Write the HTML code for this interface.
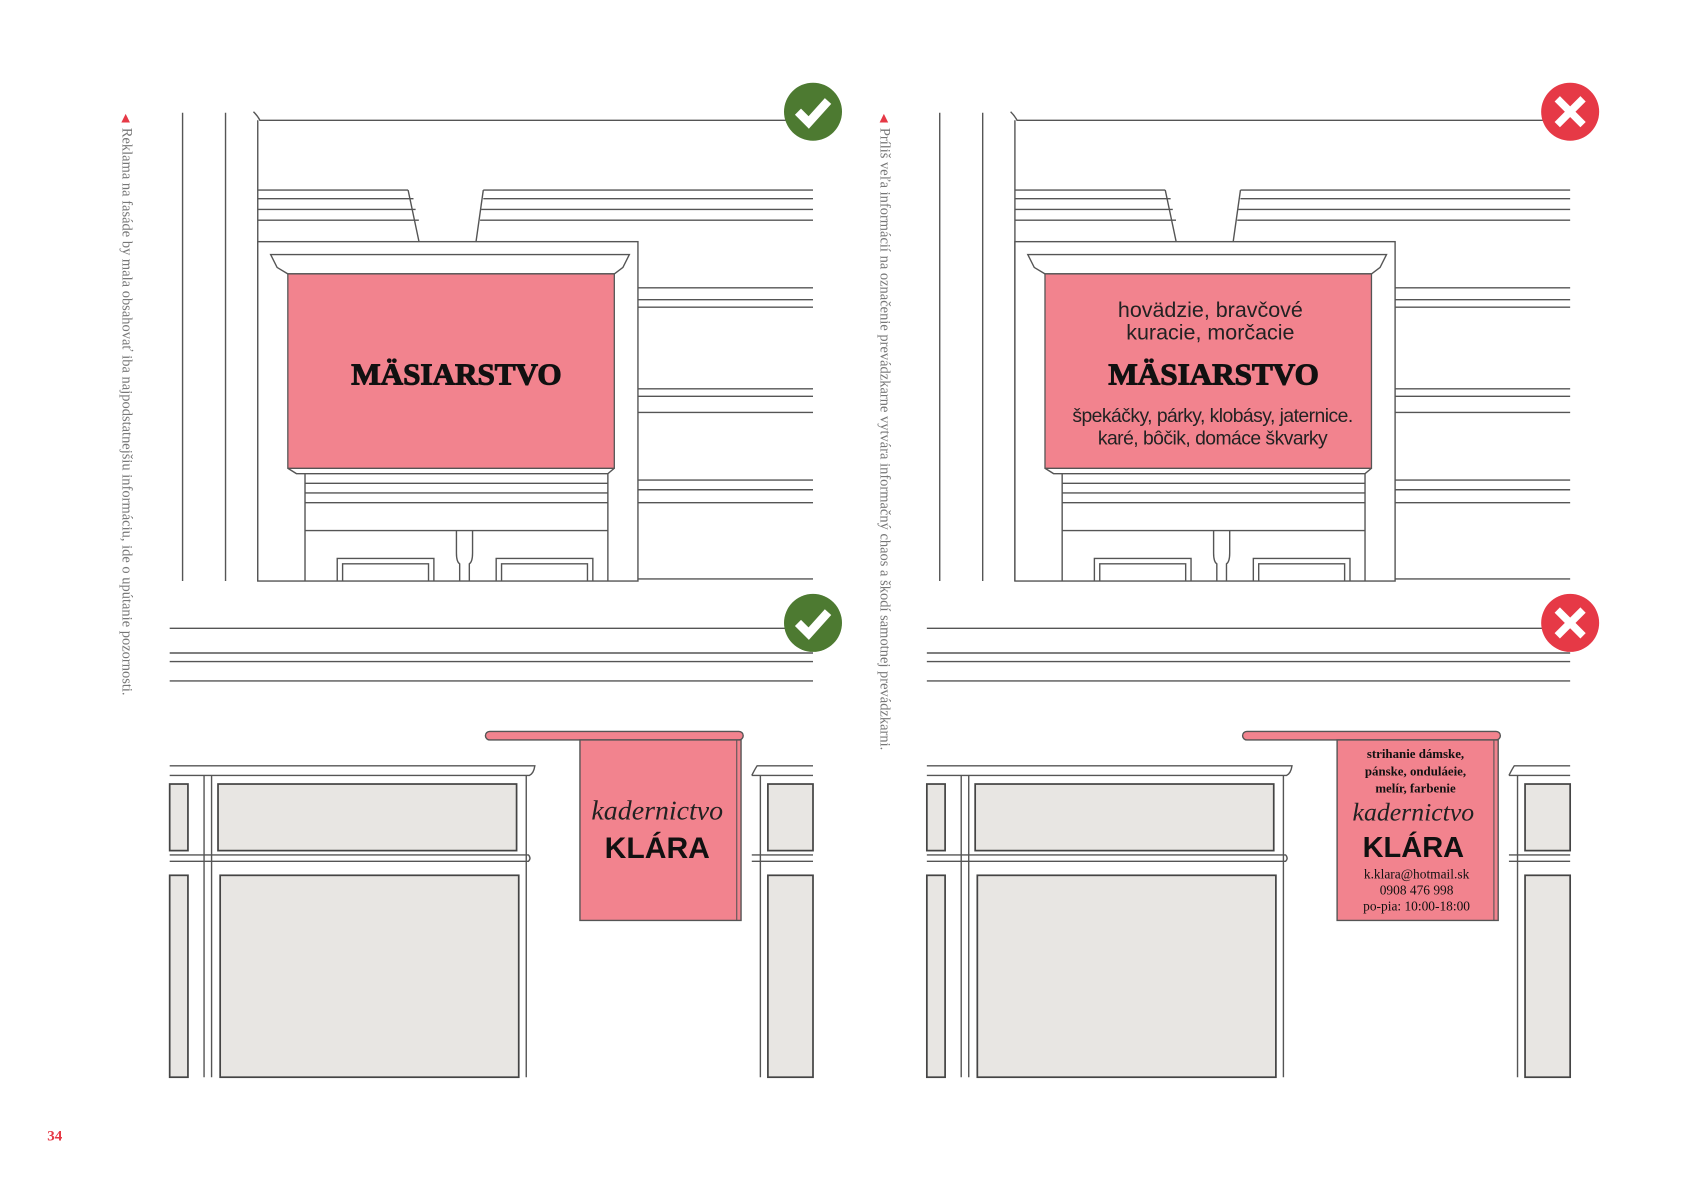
<!DOCTYPE html>
<html><head><meta charset="utf-8"><style>
html,body{margin:0;padding:0;background:#fff;}
svg{display:block}
</style></head><body>
<svg width="1684" height="1190" viewBox="0 0 1568 1108" xmlns="http://www.w3.org/2000/svg" font-family="Liberation Sans, DejaVu Sans, sans-serif">
<defs>
<g id="top" fill="none" stroke="#555" stroke-width="1.3">
  <line x1="170" y1="105" x2="170" y2="541"/>
  <line x1="210" y1="105" x2="210" y2="541"/>
  <line x1="240" y1="112" x2="240" y2="541"/>
  <path d="M236 104 Q240 108 242 112 L757 112"/>
  <line x1="240" y1="177" x2="380" y2="177"/><line x1="450" y1="177" x2="757" y2="177"/>
  <line x1="240" y1="185" x2="385" y2="185"/><line x1="450" y1="185" x2="757" y2="185"/>
  <line x1="240" y1="195" x2="387" y2="195"/><line x1="448" y1="195" x2="757" y2="195"/>
  <line x1="240" y1="205" x2="390" y2="205"/><line x1="447" y1="205" x2="757" y2="205"/>
  <path d="M380 177 L395 248 L440 248 L450 177"/>
  <rect x="240" y="225" width="354" height="316" fill="#fff"/>
  <path d="M252 237 L586 237 L580 249 L572 255 L268 255 L258 249 Z" fill="#fff"/>
  <line x1="268" y1="436" x2="572" y2="436"/>
  <path d="M268 436 L276 441 L566 441 L572 436"/>
  <line x1="284" y1="441" x2="284" y2="541"/><line x1="566" y1="441" x2="566" y2="541"/>
  <line x1="284" y1="450" x2="566" y2="450"/><line x1="284" y1="459" x2="566" y2="459"/>
  <line x1="284" y1="468" x2="566" y2="468"/><line x1="284" y1="494" x2="566" y2="494"/>
  <path d="M425 494 L425 515 Q425 523 428 525 L428 541 M440 494 L440 515 Q440 523 437 525 L437 541"/>
  <path d="M314 541 L314 520 L404 520 L404 541 M319 541 L319 525 L399 525 L399 541"/>
  <path d="M462 541 L462 520 L552 520 L552 541 M467 541 L467 525 L547 525 L547 541"/>
  <line x1="594" y1="268" x2="757" y2="268"/><line x1="594" y1="279" x2="757" y2="279"/><line x1="594" y1="286" x2="757" y2="286"/>
  <line x1="594" y1="362" x2="757" y2="362"/><line x1="594" y1="369" x2="757" y2="369"/><line x1="594" y1="384" x2="757" y2="384"/>
  <line x1="594" y1="447" x2="757" y2="447"/><line x1="594" y1="456" x2="757" y2="456"/><line x1="594" y1="468" x2="757" y2="468"/>
  <line x1="594" y1="539" x2="757" y2="539"/>
</g>
<g id="bot" stroke="#555" stroke-width="1.3">
  <g fill="none">
  <line x1="158" y1="585" x2="757" y2="585"/>
  <line x1="158" y1="608" x2="757" y2="608"/><line x1="158" y1="616" x2="757" y2="616"/>
  <line x1="158" y1="634" x2="757" y2="634"/>
  <path d="M158 713 L498 713 Q497 720 493 722 L158 722"/>
  <path d="M700 722 Q703 716 705 713 L757 713 M700 722 L757 722"/>
  <line x1="190" y1="722" x2="190" y2="1003"/><line x1="197" y1="722" x2="197" y2="1003"/>
  <line x1="490" y1="722" x2="490" y2="1003"/>
  <path d="M158 796 L492 796 Q495 799 492 802 L158 802"/>
  <path d="M700 802 L757 802 M700 796 L757 796"/>
  <line x1="708" y1="722" x2="708" y2="1003"/>
  </g>
  <g fill="#e8e6e3" stroke="#444" stroke-width="1.6">
  <rect x="203" y="730" width="278" height="62"/>
  <rect x="205" y="815" width="278" height="188"/>
  <rect x="158" y="730" width="17" height="62"/>
  <rect x="158" y="815" width="17" height="188"/>
  <rect x="715" y="730" width="42" height="62"/>
  <rect x="715" y="815" width="42" height="188"/>
  </g>
</g>
<g id="check"><circle cx="757" cy="104" r="27" fill="#4d7a31"/><path d="M743 104 L753 114 L771 94" fill="none" stroke="#fff" stroke-width="8"/></g>
<g id="cross"><circle cx="1462" cy="104" r="27" fill="#e63946"/><path d="M1450 92 L1474 116 M1474 92 L1450 116" stroke="#fff" stroke-width="7"/></g>
</defs>

<use href="#top"/>
<use href="#top" transform="translate(705,0)"/>
<use href="#bot"/>
<use href="#bot" transform="translate(705,0)"/>
<use href="#check"/>
<use href="#check" transform="translate(0,476)"/>
<use href="#cross"/>
<use href="#cross" transform="translate(0,476)"/>

<rect x="268" y="255" width="304" height="181" fill="#f2838e" stroke="#555" stroke-width="1.2"/>
<text x="425" y="358" text-anchor="middle" font-family="Liberation Serif, serif" font-weight="bold" font-size="29" fill="#111" stroke="#111" stroke-width="1">MÄSIARSTVO</text>
<rect x="973" y="255" width="304" height="181" fill="#f2838e" stroke="#555" stroke-width="1.2"/>
<g fill="#222" text-anchor="middle" font-size="20">
<text x="1127" y="295">hovädzie, bravčové</text>
<text x="1127" y="316">kuracie, morčacie</text>
<text x="1130" y="358" font-family="Liberation Serif, serif" font-weight="bold" font-size="29" fill="#111" stroke="#111" stroke-width="1">MÄSIARSTVO</text>
<text x="1129" y="393" font-size="18" letter-spacing="-0.5">špekáčky, párky, klobásy, jaternice.</text>
<text x="1129" y="414" font-size="18" letter-spacing="-0.5">karé, bôčik, domáce škvarky</text>
</g>

<rect x="452" y="681" width="240" height="8" rx="4" fill="#f2838e" stroke="#555" stroke-width="1.3"/>
<path d="M540 689 L690 689 L690 857 L540 857 Z" fill="#f2838e" stroke="#555" stroke-width="1.3"/>
<line x1="686" y1="689" x2="686" y2="857" stroke="#555" stroke-width="1"/>
<text x="612" y="763" text-anchor="middle" font-family="Liberation Serif, serif" font-style="italic" font-size="26" fill="#222">kadernictvo</text>
<text x="612" y="799" text-anchor="middle" font-weight="bold" font-size="28" fill="#111">KLÁRA</text>

<rect x="1157" y="681" width="240" height="8" rx="4" fill="#f2838e" stroke="#555" stroke-width="1.3"/>
<path d="M1245 689 L1395 689 L1395 857 L1245 857 Z" fill="#f2838e" stroke="#555" stroke-width="1.3"/>
<line x1="1391" y1="689" x2="1391" y2="857" stroke="#555" stroke-width="1"/>
<g text-anchor="middle" fill="#111" font-family="Liberation Serif, serif" font-weight="bold" font-size="12">
<text x="1318" y="706">strihanie dámske,</text>
<text x="1318" y="722">pánske, onduláeie,</text>
<text x="1318" y="738">melír, farbenie</text>
</g>
<text x="1316" y="764" text-anchor="middle" font-family="Liberation Serif, serif" font-style="italic" font-size="24" fill="#222">kadernictvo</text>
<text x="1316" y="798" text-anchor="middle" font-weight="bold" font-size="27" fill="#111">KLÁRA</text>
<g text-anchor="middle" fill="#111" font-family="Liberation Serif, serif" font-size="12.5">
<text x="1319" y="818">k.klara@hotmail.sk</text>
<text x="1319" y="833">0908 476 998</text>
<text x="1319" y="848">po-pia: 10:00-18:00</text>
</g>

<path d="M113 114 L117 106 L121 114 Z" fill="#e63946"/>
<text transform="translate(114,119) rotate(90)" font-family="Liberation Serif, serif" font-size="13.5" fill="#777">Reklama na fasáde by mala obsahovať iba najpodstatnejšiu informáciu, ide o upútanie pozornosti.</text>
<path d="M819 114 L823 106 L827 114 Z" fill="#e63946"/>
<text transform="translate(820,119) rotate(90)" font-family="Liberation Serif, serif" font-size="13.5" fill="#777">Príliš veľa informácií na označenie prevádzkarne vytvára informačný chaos a škodí samotnej prevádzkarni.</text>

<text x="44" y="1062" font-family="Liberation Serif, serif" font-weight="bold" font-size="14" fill="#e63946">34</text>
</svg>
</body></html>
